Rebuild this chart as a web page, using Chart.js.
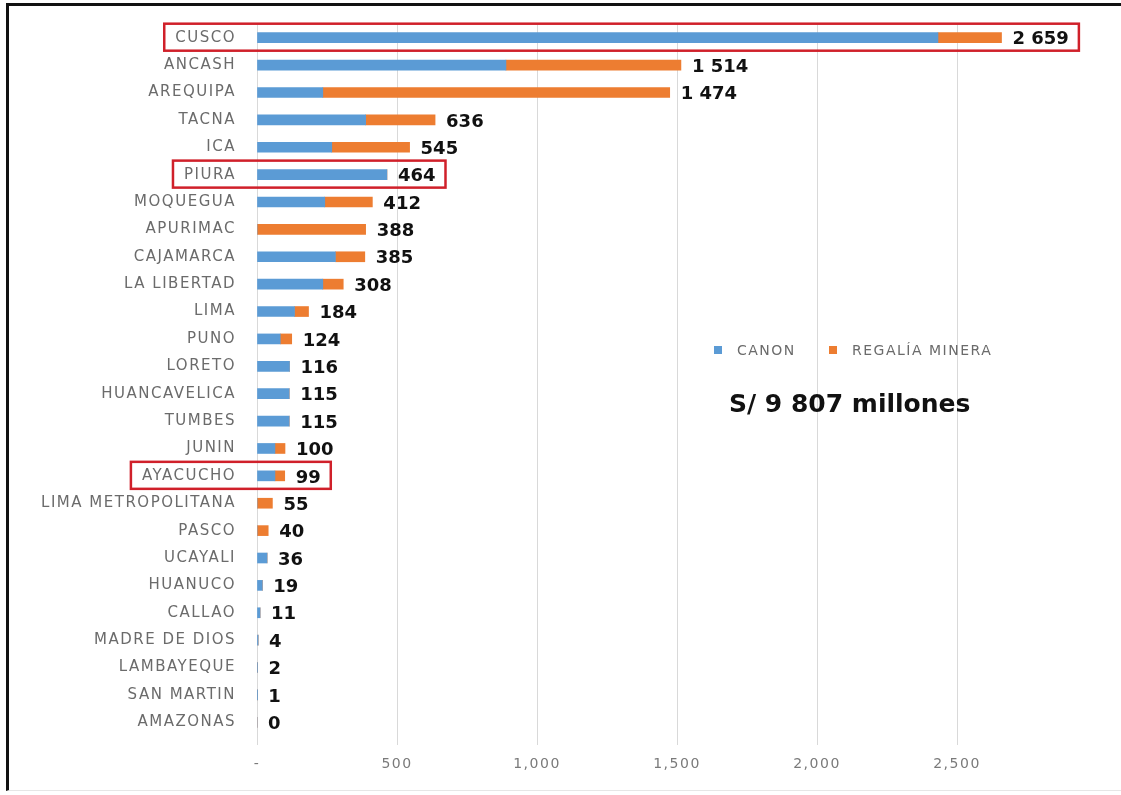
<!DOCTYPE html>
<html>
<head>
  <title>Canon y Regalía Minera por región</title>
  <script src="https://cdn.jsdelivr.net/npm/chart.js"></script>
  <style>
    body {
      margin: 0;
      background: white;
    }
    #wrap {
      position: relative;
      width: 1121px;
      height: 795px;
    }
    /* black frame like the scanned slide */
    #frame {
      position: absolute;
      left: 6px;
      top: 3px;
      right: 0;
      bottom: 4px;
      border-left: 3px solid #111;
      border-top: 3px solid #111;
      border-bottom: 1px solid #e6e6e6;
      pointer-events: none;
    }
  </style>
</head>
<body>

  <div id="wrap">
    <canvas id="minChart"></canvas>
    <div id="frame"></div>
  </div>

  <script>
    const regions = ['CUSCO', 'ANCASH', 'AREQUIPA', 'TACNA', 'ICA', 'PIURA', 'MOQUEGUA', 'APURIMAC',
      'CAJAMARCA', 'LA LIBERTAD', 'LIMA', 'PUNO', 'LORETO', 'HUANCAVELICA', 'TUMBES', 'JUNIN',
      'AYACUCHO', 'LIMA METROPOLITANA', 'PASCO', 'UCAYALI', 'HUANUCO', 'CALLAO', 'MADRE DE DIOS',
      'LAMBAYEQUE', 'SAN MARTIN', 'AMAZONAS'];
    const canon   = [2432, 889, 235, 388, 267, 464, 242, 0, 280, 235, 134, 83, 116, 115, 115, 64,
      64, 0, 0, 36, 19, 11, 4, 2, 1, 0];
    const regalia = [227, 625, 1239, 248, 278, 0, 170, 388, 105, 73, 50, 41, 0, 0, 0, 36,
      35, 55, 40, 0, 0, 0, 0, 0, 0, 0];
    const highlighted = ['CUSCO', 'PIURA', 'AYACUCHO'];
    const xTicks = [0, 500, 1000, 1500, 2000, 2500];
    const totalText = 'S/ 9 807 millones';

    const blue = '#5b9bd5';
    const orange = '#ed7d31';
    const labelFont = '15px "DejaVu Sans"';
    const spacing = '1.5px';

    function fmt(v) {
      return Math.round(v).toLocaleString('en-US').replace(',', ' ');
    }

    const extras = {
      id: 'extras',
      beforeDraw(chart) {
        chart.ctx.letterSpacing = spacing;
      },
      beforeDatasetsDraw(chart) {
        chart.ctx.letterSpacing = '0px';
      },
      afterDatasetsDraw(chart) {
        const ctx = chart.ctx;
        const xs = chart.scales.x, ys = chart.scales.y;
        ctx.save();
        ctx.font = 'bold 18px "DejaVu Sans"';
        ctx.fillStyle = '#111';
        ctx.textBaseline = 'middle';
        regions.forEach((r, i) => {
          const total = canon[i] + regalia[i];
          ctx.fillText(fmt(total), xs.getPixelForValue(total) + 11, ys.getPixelForValue(i) + 2);
        });
        ctx.restore();
      },
      afterDraw(chart) {
        const ctx = chart.ctx;
        const xs = chart.scales.x, ys = chart.scales.y;
        ctx.save();

        // legend
        ctx.letterSpacing = spacing;
        ctx.font = '14px "DejaVu Sans"';
        ctx.textBaseline = 'middle';
        const legendItems = [[chart.data.datasets[0], 714], [chart.data.datasets[1], 829]];
        legendItems.forEach(([ds, lx]) => {
          ctx.fillStyle = ds.backgroundColor;
          ctx.fillRect(lx, 346, 8, 8);
          ctx.fillStyle = '#6b6b6b';
          ctx.fillText(ds.label, lx + 23, 351);
        });

        // total
        ctx.letterSpacing = '0px';
        ctx.font = 'bold 25px "DejaVu Sans"';
        ctx.fillStyle = '#111';
        ctx.fillText(totalText, 729, 405);

        // red boxes around highlighted regions
        ctx.strokeStyle = '#d0202a';
        ctx.lineWidth = 2.5;
        highlighted.forEach(name => {
          const i = regions.indexOf(name);
          const cy = ys.getPixelForValue(i);
          ctx.letterSpacing = spacing;
          ctx.font = labelFont;
          const lw = ctx.measureText(name).width;
          ctx.letterSpacing = '0px';
          ctx.font = 'bold 18px "DejaVu Sans"';
          const total = canon[i] + regalia[i];
          const vw = ctx.measureText(fmt(total)).width;
          const left = ys.right - 21 - lw - 11;
          const right = xs.getPixelForValue(total) + 11 + vw + 10;
          ctx.strokeRect(left, cy - 14, right - left, 27);
        });
        ctx.restore();
      }
    };

    const ctx = document.getElementById('minChart').getContext('2d');
    new Chart(ctx, {
      type: 'bar',
      data: {
        labels: regions,
        datasets: [
          { label: 'CANON', data: canon, backgroundColor: blue, barThickness: 10 },
          { label: 'REGALÍA MINERA', data: regalia, backgroundColor: orange, barThickness: 10 }
        ]
      },
      options: {
        indexAxis: 'y',
        responsive: true,
        maintainAspectRatio: false,
        animation: false,
        layout: { padding: { top: 24, right: 24, bottom: 0, left: 0 } },
        plugins: {
          legend: { display: false },
          tooltip: { enabled: false }
        },
        scales: {
          x: {
            stacked: true,
            min: 0,
            max: 3000,
            afterBuildTicks: s => { s.ticks = xTicks.concat([3000]).map(v => ({ value: v })); },
            afterFit: s => { s.height = 59; },
            border: { display: false },
            grid: {
              color: c => c.tick && c.tick.value === 3000 ? 'rgba(0,0,0,0)' : '#d9d9d9',
              tickLength: 9
            },
            ticks: {
              padding: 11,
              color: '#7a7a7a',
              font: { family: 'DejaVu Sans', size: 14 },
              callback: v => v === 0 ? '-' : (v === 3000 ? '' : v.toLocaleString('en-US'))
            }
          },
          y: {
            stacked: true,
            afterFit: s => { s.width = 257; },
            border: { display: false },
            // tick marks are hidden with the grid; their length just spaces the labels
            grid: { display: false, drawTicks: true, tickLength: 21 },
            ticks: {
              padding: 0,
              color: '#6b6b6b',
              font: { family: 'DejaVu Sans', size: 15 }
            }
          }
        }
      },
      plugins: [extras]
    });
  </script>

</body>
</html>
